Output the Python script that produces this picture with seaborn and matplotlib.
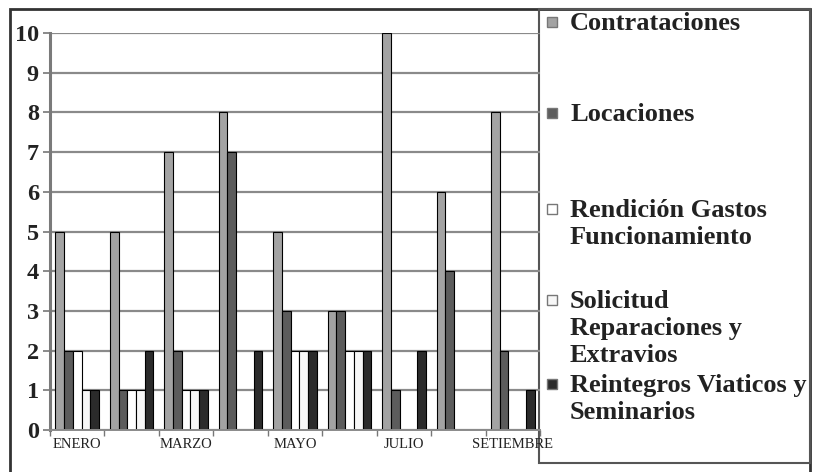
import matplotlib
matplotlib.use("Agg")
import matplotlib.pyplot as plt
from matplotlib.patches import Rectangle
import numpy as np
import pandas as pd
import seaborn as sns

meses = ["ENERO", "FEBRERO", "MARZO", "ABRIL", "MAYO", "JUNIO",
         "JULIO", "AGOSTO", "SETIEMBRE"]
series = ["Contrataciones", "Locaciones", "Rendición Gastos Funcionamiento",
          "Solicitud Reparaciones y Extravios", "Reintegros Viaticos y Seminarios"]
etiquetas_leyenda = [["Contrataciones"], ["Locaciones"],
                     ["Rendición Gastos", "Funcionamiento"],
                     ["Solicitud", "Reparaciones y", "Extravios"],
                     ["Reintegros Viaticos y", "Seminarios"]]
contrataciones = [5, 5, 7, 8, 5, 3, 10, 6, 8]
locaciones = [2, 1, 2, 7, 3, 3, 1, 4, 2]
rendicion = [2, 1, 1, 0, 2, 2, 0, 0, 0]
solicitud = [1, 1, 1, 0, 2, 2, 0, 0, 0]
reintegros = [1, 2, 1, 2, 2, 2, 2, 0, 1]
colores = ["#a3a3a3", "#5c5c5c", "#ffffff", "#f7f7f7", "#2b2b2b"]

valores = [contrataciones, locaciones, rendicion, solicitud, reintegros]
df = pd.DataFrame({
    "mes": [m for _ in series for m in meses],
    "serie": [s for s in series for _ in meses],
    "valor": [v for vals in valores for v in vals],
})

W, H = 813, 472
fig = plt.figure(figsize=(W / 100, H / 100), dpi=100)
fig.patch.set_facecolor("white")


def fx(x):
    return x / W


def fy(y):
    return 1 - y / H


ax = fig.add_axes([fx(50), fy(430), fx(540) - fx(50), fy(33) - fy(430)])
sns.barplot(data=df, x="mes", y="valor", hue="serie", order=meses,
            hue_order=series, palette=colores, saturation=1, width=0.8,
            edgecolor="black", linewidth=0.8, legend=False, ax=ax)
for p in ax.patches:
    if p.get_height() == 0:
        p.set_linewidth(0)

ax.set_ylim(0, 10)
ax.set_xlim(-0.5, len(meses) - 0.5)
ax.set_yticks(range(0, 11))
ax.set_yticklabels([str(v) for v in range(0, 11)], fontfamily="Liberation Serif",
                   fontweight="bold", fontsize=17.5, color="#222222")
ax.set_xticks(range(len(meses)))
ax.set_xticklabels([m if i % 2 == 0 else "" for i, m in enumerate(meses)],
                   fontfamily="Liberation Serif", fontsize=10.5, color="#222222")
ax.set_xticks(np.arange(-0.5, len(meses), 1), minor=True)
ax.tick_params(axis="x", which="major", length=0, pad=6)
ax.tick_params(axis="x", which="minor", length=4, color="#777777", width=1)
ax.tick_params(axis="y", length=5, color="#777777", width=1.2, pad=3)
ax.set_xlabel("")
ax.set_ylabel("")
ax.yaxis.grid(True, color="#8a8a8a", linewidth=1.6)
ax.set_axisbelow(True)
for s in ["top", "right"]:
    ax.spines[s].set_visible(False)
ax.spines["left"].set_color("#7a7a7a")
ax.spines["left"].set_linewidth(2.2)
ax.spines["bottom"].set_color("#8a8a8a")
ax.spines["bottom"].set_linewidth(1.4)
ax.patch.set_alpha(0)

# outer frame
fig.add_artist(Rectangle((fx(10), fy(490)), fx(810) - fx(10), fy(9) - fy(490),
                         transform=fig.transFigure, fill=False,
                         edgecolor="#333333", linewidth=2, clip_on=False,
                         zorder=-2))
# legend box
fig.add_artist(Rectangle((fx(539), fy(463)), fx(810) - fx(539), fy(9) - fy(463),
                         transform=fig.transFigure, facecolor="none",
                         edgecolor="#555555", linewidth=1.5, zorder=-1))

base_y = [30, 121, 217, 308, 392]
paso = 27
for lineas, col, by in zip(etiquetas_leyenda, colores, base_y):
    fig.add_artist(Rectangle((fx(547), fy(by - 3)), 10 / W, 10 / H,
                             transform=fig.transFigure, facecolor=col,
                             edgecolor="#777777", linewidth=1))
    for k, linea in enumerate(lineas):
        fig.text(fx(570), fy(by + k * paso), linea, ha="left", va="baseline",
                 fontfamily="Liberation Serif", fontweight="bold", fontsize=19,
                 color="#222222")

fig.savefig("out.png", dpi=100)
